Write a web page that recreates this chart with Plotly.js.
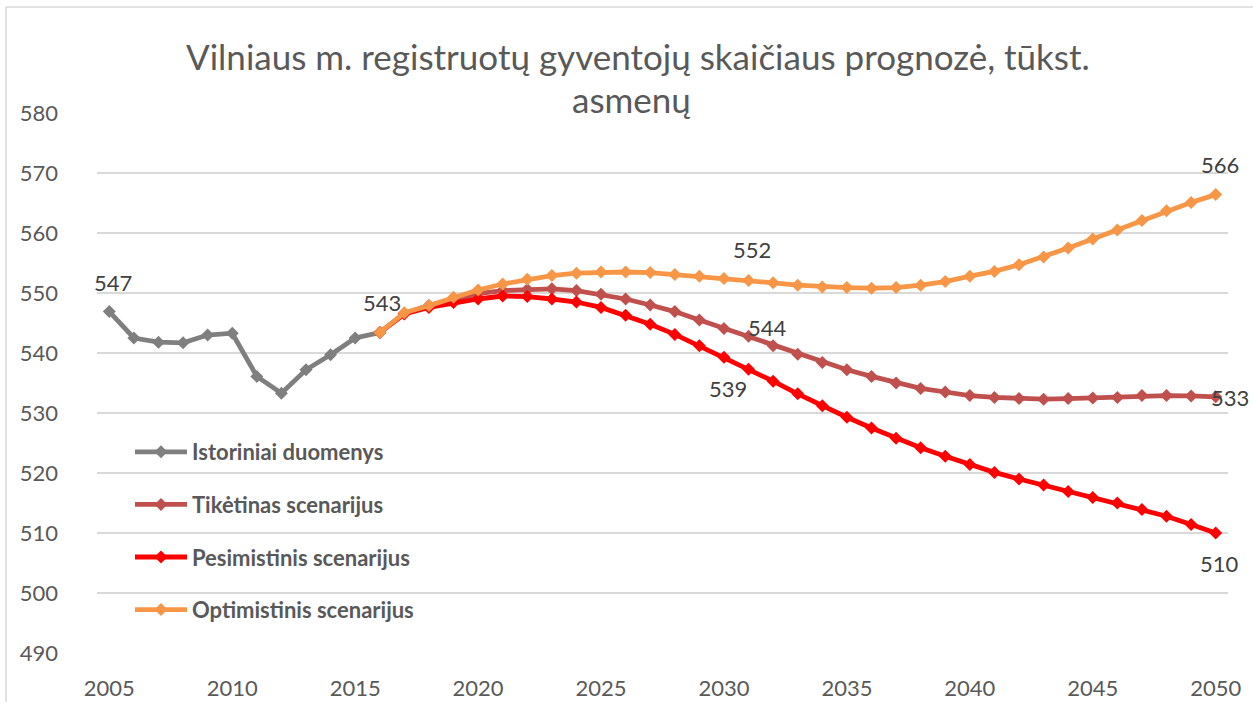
<!DOCTYPE html>
<html>
<head>
<meta charset="utf-8">
<script src="https://cdn.plot.ly/plotly-3.0.1.min.js"></script>
<style>html,body{margin:0;padding:0;background:#fff;}#chart{width:1253px;height:702px;}</style>
</head>
<body>
<div id="chart"></div>
<script>
// ---- data ----
const histYears = [2005,2006,2007,2008,2009,2010,2011,2012,2013,2014,2015,2016];
const histValues = [546.9,542.5,541.8,541.7,543.0,543.3,536.1,533.3,537.2,539.7,542.5,543.4];

const fcYears = [2016,2017,2018,2019,2020,2021,2022,2023,2024,2025,2026,2027,2028,2029,2030,2031,2032,2033,2034,2035,2036,2037,2038,2039,2040,2041,2042,2043,2044,2045,2046,2047,2048,2049,2050];
const likelyValues = [543.4,546.6,547.9,549.0,549.9,550.4,550.6,550.7,550.4,549.8,549.0,548.0,546.9,545.5,544.1,542.8,541.2,539.8,538.4,537.2,536.1,535.0,534.1,533.5,532.9,532.6,532.4,532.3,532.4,532.5,532.6,532.9,532.9,532.85,532.7];
const pessimisticValues = [543.4,546.5,547.6,548.4,549.0,549.5,549.4,549.0,548.5,547.6,546.3,544.8,543.1,541.2,539.3,537.3,535.3,533.2,531.2,529.3,527.5,525.8,524.2,522.8,521.4,520.1,519.0,518.0,516.9,515.9,515.0,513.9,512.8,511.4,510.0];
const optimisticValues = [543.4,546.7,547.9,549.3,550.5,551.5,552.3,552.9,553.3,553.5,553.5,553.4,553.1,552.8,552.4,552.1,551.7,551.3,551.0,550.9,550.8,550.9,551.3,551.9,552.8,553.6,554.7,556.0,557.5,559.0,560.5,562.1,563.7,565.1,566.4];

const seriesNames = ["Istoriniai duomenys","Tikėtinas scenarijus","Pesimistinis scenarijus","Optimistinis scenarijus"];
const titleLine1 = "Vilniaus m. registruotų gyventojų skaičiaus prognozė, tūkst.";
const titleLine2 = "asmenų";
const xTickVals = [2005,2010,2015,2020,2025,2030,2035,2040,2045,2050];
const yTickVals = [490,500,510,520,530,540,550,560,570,580];

// ---- styling ----
const colors = ["#7f7f7f","#c0504d","#ff0000","#f79646"];
const FONT = "Lato, 'Open Sans', sans-serif";
const TXT = "#595959";

function mk(name, x, y, color, idx){
  return {
    type:"scatter", mode:"lines+markers", name:name, x:x, y:y,
    line:{color:color, width:4.8},
    marker:{symbol:"diamond", size:10, color:color},
    legendgroup:"g"+idx, hoverinfo:"x+y"
  };
}
const traces = [
  mk(seriesNames[0], histYears, histValues, colors[0], 0),
  mk(seriesNames[1], fcYears, likelyValues, colors[1], 1),
  mk(seriesNames[2], fcYears, pessimisticValues, colors[2], 2),
  mk(seriesNames[3], fcYears, optimisticValues, colors[3], 3)
];

function lab(xArr, yArr, i, xs, ys){
  return {x:xArr[i], y:yArr[i], xref:"x", yref:"y", text:String(Math.round(yArr[i])),
    showarrow:false, xshift:xs, yshift:ys, font:{family:FONT, size:22, color:"#404040"}};
}
const last = fcYears.length-1;
const i2030 = fcYears.indexOf(2030);
const annotations = [
  lab(histYears, histValues, 0, 4, 29),
  lab(histYears, histValues, histValues.length-1, 2, 30),
  lab(fcYears, optimisticValues, i2030, 28, 29),
  lab(fcYears, likelyValues, i2030, 44, 1),
  lab(fcYears, pessimisticValues, i2030, 4, -31),
  lab(fcYears, optimisticValues, last, 4, 30),
  lab(fcYears, likelyValues, last, 14, -1),
  lab(fcYears, pessimisticValues, last, 4, -30),
  {text:titleLine1, xref:"paper", yref:"paper", x:(638-97)/1131, y:(653-56)/540, showarrow:false,
   xanchor:"center", yanchor:"middle", font:{family:FONT, size:35, color:TXT}},
  {text:titleLine2, xref:"paper", yref:"paper", x:(631-97)/1131, y:(653-99)/540, showarrow:false,
   xanchor:"center", yanchor:"middle", font:{family:FONT, size:35, color:TXT}}
];

const layout = {
  width:1253, height:702,
  margin:{l:97, r:25, t:113, b:49},
  paper_bgcolor:"#ffffff", plot_bgcolor:"#ffffff",
  showlegend:true,
  legend:{x:(130-97)/1131, y:(653-431)/540, xanchor:"left", yanchor:"top",
    bgcolor:"rgba(0,0,0,0)", traceorder:"grouped", tracegroupgap:21, itemwidth:52,
    font:{family:FONT, size:22, color:TXT, weight:"bold"}},
  xaxis:{range:[2004.5,2050.5], tickvals:xTickVals, showgrid:false, zeroline:false,
    showline:false, ticks:"", ticklabelstandoff:20, tickfont:{family:FONT, size:22, color:TXT}, fixedrange:true},
  yaxis:{range:[490,580], tickvals:yTickVals, showgrid:true, gridcolor:"#d9d9d9", gridwidth:1.3,
    zeroline:false, showline:false, ticks:"", ticklabelstandoff:38,
    tickfont:{family:FONT, size:22, color:TXT}, fixedrange:true},
  annotations:annotations,
  shapes:[
    {type:"line", xref:"paper", yref:"paper", x0:(6-97)/1131, x1:(1300-97)/1131, y0:(653-7)/540, y1:(653-7)/540, line:{color:"#d9d9d9", width:1.5}},
    {type:"line", xref:"paper", yref:"paper", x0:(6-97)/1131, x1:(6-97)/1131, y0:(653-7)/540, y1:(653-720)/540, line:{color:"#d9d9d9", width:1.5}}
  ]
};
Plotly.newPlot("chart", traces, layout, {displayModeBar:false, staticPlot:true});
</script>
</body>
</html>
